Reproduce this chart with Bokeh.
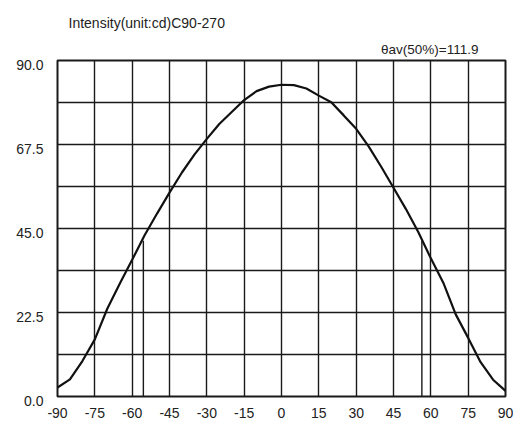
from bokeh.plotting import figure
from bokeh.models import FixedTicker, PrintfTickFormatter, Title, Range1d
from bokeh.embed import file_html
from bokeh.resources import INLINE

# data
angles = [-90, -85, -80, -75, -70, -65, -60, -55, -50, -45, -40, -35, -30, -25, -20, -15, -10, -5,
          0, 5, 10, 15, 20, 25, 30, 35, 40, 45, 50, 55, 60, 65, 70, 75, 80, 85, 90]
intensity = [2.4, 4.6, 9.5, 15.3, 23.5, 30.2, 36.6, 43.2, 49.0, 54.6, 60.0, 64.8, 69.0, 73.0, 76.2, 79.4, 81.8, 83.0,
             83.5, 83.4, 82.5, 80.6, 78.8, 75.3, 71.7, 67.0, 61.6, 55.9, 50.2, 44.0, 37.0, 30.5, 22.0, 15.7, 9.2, 4.5, 1.5]
half_angles = [-55.5, 56.4]
half_value = 41.75
x_ticks = [-90, -75, -60, -45, -30, -15, 0, 15, 30, 45, 60, 75, 90]
y_ticks = [0, 22.5, 45, 67.5, 90]
y_labels = ["0.0", "22.5", "45.0", "67.5", "90.0"]
y_grid = [0, 11.25, 22.5, 33.75, 45, 56.25, 67.5, 78.75, 90]
title_text = "Intensity(unit:cd)C90-270"
beam_text = "θav(50%)=111.9"

FONT = "Liberation Sans"
INK = "#1a1a1a"

p = figure(frame_width=448, frame_height=336, output_backend="svg", toolbar_location=None,
           x_range=Range1d(-90, 90), y_range=Range1d(0, 90),
           min_border_left=57, min_border_right=13, min_border_top=60, min_border_bottom=0)
p.background_fill_color = "white"
p.border_fill_color = "white"
p.outline_line_color = INK
p.outline_line_width = 2

# titles (first added sits closest to the frame)
p.add_layout(Title(text=beam_text, align="right", offset=27, text_font=FONT, text_font_size="13.5px",
                   text_font_style="normal", text_color="#222222", standoff=7), "above")
p.add_layout(Title(text=title_text, align="left", offset=11, text_font=FONT, text_font_size="14px",
                   text_font_style="normal", text_color="#222222", standoff=12), "above")

# grids
p.xgrid.ticker = FixedTicker(ticks=x_ticks)
p.ygrid.ticker = FixedTicker(ticks=y_grid)
for g in (p.xgrid, p.ygrid):
    g.grid_line_color = INK
    g.grid_line_width = 1.4
    g.grid_line_alpha = 1.0

# axes
p.xaxis.ticker = FixedTicker(ticks=x_ticks)
p.xaxis.formatter = PrintfTickFormatter(format="%d")
p.yaxis.ticker = FixedTicker(ticks=y_ticks)
p.yaxis.formatter = PrintfTickFormatter(format="%.1f")
# leading empty line with a tight line height nudges each label just below its grid line
p.yaxis.major_label_overrides = {t: "\n" + s for t, s in zip(y_ticks, y_labels)}
p.yaxis.major_label_text_line_height = 0.62
for ax in (p.xaxis[0], p.yaxis[0]):
    ax.axis_line_color = None
    ax.major_tick_line_color = None
    ax.minor_tick_line_color = None
    ax.major_label_text_font = FONT
    ax.major_label_text_font_size = "14px"
    ax.major_label_text_color = "#222222"
p.yaxis.major_label_standoff = 8
p.xaxis.major_label_standoff = 5

# half-intensity lines
p.segment(x0=half_angles, y0=[0, 0], x1=half_angles, y1=[half_value, half_value],
          line_color=INK, line_width=1.4)

# curve
p.line(angles, intensity, line_color="#111111", line_width=2.2)

open("out.html", "w").write(file_html(p, INLINE))
